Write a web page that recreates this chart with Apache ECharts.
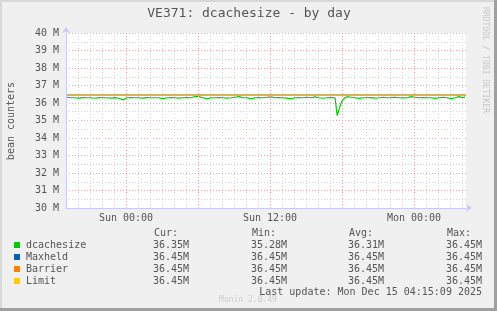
<!DOCTYPE html>
<html>
<head>
<meta charset="utf-8">
<script src="https://cdn.jsdelivr.net/npm/echarts@6/dist/echarts.min.js"></script>
<style>
html,body{margin:0;padding:0;background:#f0f0f0;}
#c{width:497px;height:311px;}
</style>
</head>
<body>
<div id="c"></div>
<script>
// ---- data (hours relative to Sun 00:00, values in millions) ----
const titleText = 'VE371: dcachesize - by day';
const yTitle = 'bean counters';
const xTickLabels = { 0: 'Sun 00:00', 12: 'Sun 12:00', 24: 'Mon 00:00' };
const majorHours = [0, 6, 12, 18, 24];
const dcachesize = [
  [-4.92,36.33],[-4.58,36.30],[-4.25,36.30],[-3.92,36.28],[-3.58,36.31],[-3.25,36.30],
  [-2.92,36.30],[-2.58,36.27],[-2.25,36.31],[-1.92,36.30],[-1.58,36.30],[-1.25,36.28],
  [-0.92,36.31],[-0.58,36.27],[-0.25,36.18],[0.08,36.30],[0.42,36.31],[0.75,36.30],
  [1.08,36.30],[1.42,36.28],[1.75,36.31],[2.08,36.30],[2.42,36.30],[2.75,36.30],
  [3.08,36.25],[3.42,36.30],[3.75,36.31],[4.08,36.30],[4.42,36.28],[4.75,36.30],
  [5.08,36.31],[5.42,36.30],[5.75,36.37],[6.08,36.36],[6.42,36.30],[6.75,36.24],
  [7.08,36.30],[7.42,36.30],[7.75,36.31],[8.08,36.30],[8.42,36.28],[8.75,36.30],
  [9.08,36.33],[9.42,36.36],[9.75,36.30],[10.08,36.30],[10.42,36.24],[10.75,36.30],
  [11.08,36.31],[11.42,36.30],[11.75,36.33],[12.08,36.35],[12.42,36.30],[12.75,36.31],
  [13.08,36.30],[13.42,36.28],[13.75,36.24],[14.08,36.30],[14.42,36.31],[14.75,36.30],
  [15.08,36.33],[15.42,36.30],[15.75,36.35],[16.08,36.30],[16.42,36.27],[16.75,36.30],
  [17.08,36.31],[17.42,36.30],[17.50,36.28],[17.60,35.28],[17.75,35.62],[17.92,35.98],
  [18.08,36.20],[18.25,36.30],[18.42,36.36],[18.75,36.33],[19.08,36.30],[19.42,36.26],
  [19.75,36.30],[20.08,36.30],[20.42,36.31],[20.75,36.28],[21.08,36.30],[21.42,36.33],
  [21.75,36.30],[22.08,36.31],[22.42,36.33],[22.75,36.30],[23.08,36.29],[23.42,36.30],
  [23.75,36.36],[24.08,36.33],[24.42,36.30],[24.75,36.31],[25.08,36.30],[25.42,36.30],
  [25.75,36.26],[26.08,36.30],[26.42,36.33],[26.75,36.30],[27.08,36.25],[27.42,36.30],
  [27.75,36.36],[28.08,36.30],[28.25,36.35]
];
const levelTimes = [-4.92, 28.33];
const maxheld = [36.45, 36.45];
const barrier = [36.45, 36.45];
const limit = [36.45, 36.45];

const legendNames = ['dcachesize', 'Maxheld', 'Barrier', 'Limit'];
const legendColors = ['#00cc00', '#0066b3', '#ff8000', '#ffcc00'];
const statHeaders = ['Cur:', 'Min:', 'Avg:', 'Max:'];
const statCur = ['36.35M', '36.45M', '36.45M', '36.45M'];
const statMin = ['35.28M', '36.45M', '36.45M', '36.45M'];
const statAvg = ['36.31M', '36.45M', '36.45M', '36.45M'];
const statMax = ['36.45M', '36.45M', '36.45M', '36.45M'];
const lastUpdate = 'Last update: Mon Dec 15 04:15:09 2025';
const versionText = 'Munin 2.0.49';
const watermark = 'RRDTOOL / TOBI OETIKER';

// ---- chart ----
const MONO = '"DejaVu Sans Mono", "Liberation Mono", monospace';
const chart = echarts.init(document.getElementById('c'), null, { renderer: 'canvas' });

const pair = (vals) => levelTimes.map((t, i) => [t, vals[i]]);
const gray = '#d4d4d4', red = '#f2a0a0', axisBlue = '#c8c8ff';

const graphic = [];
// frame
graphic.push({ type: 'rect', shape: { x: 0, y: 0, width: 497, height: 2 }, style: { fill: '#d8d8d8' }, silent: true });
graphic.push({ type: 'rect', shape: { x: 0, y: 0, width: 2, height: 311 }, style: { fill: '#d8d8d8' }, silent: true });
graphic.push({ type: 'rect', shape: { x: 494, y: 0, width: 3, height: 311 }, style: { fill: '#a0a0a0' }, silent: true });
graphic.push({ type: 'rect', shape: { x: 0, y: 308, width: 497, height: 3 }, style: { fill: '#a0a0a0' }, silent: true });
// title
graphic.push({ type: 'text', x: 249, y: 14, style: { text: titleText, font: '13px ' + MONO, fill: '#555', align: 'center', verticalAlign: 'middle' } });
// y title
graphic.push({ type: 'text', x: 11, y: 121, rotation: Math.PI / 2, style: { text: yTitle, font: '10px ' + MONO, fill: '#555', align: 'center', verticalAlign: 'middle' } });
// watermark
graphic.push({ type: 'text', x: 485, y: 60, rotation: -Math.PI / 2, style: { text: watermark, font: '8px ' + MONO, fill: '#c8c8c8', align: 'center', verticalAlign: 'middle' } });
// legend + stats
const rowY = [245, 257, 269, 281];
const colHeadX = [154, 252, 349, 447];
const colValX = [189, 287, 384, 482];
const cols = [statCur, statMin, statAvg, statMax];
statHeaders.forEach((h, j) => {
  graphic.push({ type: 'text', x: colHeadX[j], y: 233, style: { text: h, font: '10px ' + MONO, fill: '#555', align: 'left', verticalAlign: 'middle' } });
});
legendNames.forEach((n, i) => {
  graphic.push({ type: 'rect', shape: { x: 14, y: rowY[i] - 3, width: 6, height: 6 }, style: { fill: legendColors[i] } });
  graphic.push({ type: 'text', x: 26, y: rowY[i], style: { text: n, font: '10px ' + MONO, fill: '#555', align: 'left', verticalAlign: 'middle' } });
  cols.forEach((c, j) => {
    graphic.push({ type: 'text', x: colValX[j], y: rowY[i], style: { text: c[i], font: '10px ' + MONO, fill: '#555', align: 'right', verticalAlign: 'middle' } });
  });
});
graphic.push({ type: 'text', x: 482, y: 292, style: { text: lastUpdate, font: '10px ' + MONO, fill: '#555', align: 'right', verticalAlign: 'middle' } });
graphic.push({ type: 'text', x: 248, y: 300, style: { text: versionText, font: '8px ' + MONO, fill: '#cccccc', align: 'center', verticalAlign: 'middle' } });

const option = {
  animation: false,
  backgroundColor: '#f0f0f0',
  grid: { left: 66, top: 33, width: 400, height: 175, backgroundColor: '#ffffff', show: true, borderWidth: 0 },
  xAxis: {
    type: 'value', min: -5, max: 28.3333, interval: 1,
    axisLine: { show: true, onZero: false, lineStyle: { color: axisBlue, width: 1 }, symbol: ['none', 'arrow'], symbolSize: [6, 6], symbolOffset: [0, 6] },
    axisTick: { show: false },
    axisLabel: { margin: 5, color: '#555', fontFamily: MONO, fontSize: 10, formatter: (v) => xTickLabels[Math.round(v)] !== undefined && Math.abs(v - Math.round(v)) < 1e-6 ? xTickLabels[Math.round(v)] : '', showMinLabel: true, showMaxLabel: false },
    splitLine: { show: true, showMinLine: false, showMaxLine: false, lineStyle: { color: gray, type: [1, 2], width: 1 } }
  },
  yAxis: {
    type: 'value', min: 30, max: 40, interval: 1,
    axisLine: { show: true, onZero: false, lineStyle: { color: axisBlue, width: 1 }, symbol: ['none', 'arrow'], symbolSize: [6, 6], symbolOffset: [0, 6] },
    axisTick: { show: false },
    minorTick: { show: false, splitNumber: 2 },
    minorSplitLine: { show: true, lineStyle: { color: gray, type: [1, 2], width: 1 } },
    axisLabel: { margin: 7, color: '#555', fontFamily: MONO, fontSize: 10, formatter: (v) => Math.round(v) + ' M' },
    splitLine: { show: true, showMinLine: false, lineStyle: { color: red, type: [1, 2], width: 1 } }
  },
  series: [
    { name: legendNames[0], type: 'line', data: dcachesize, showSymbol: false, lineStyle: { color: legendColors[0], width: 1.2 }, itemStyle: { color: legendColors[0] },
      markLine: { silent: true, symbol: 'none', label: { show: false }, animation: false,
        lineStyle: { color: red, type: [1, 2], width: 1 }, emphasis: { disabled: true },
        data: majorHours.map((h) => ({ xAxis: h })) }, z: 3 },
    { name: legendNames[1], type: 'line', data: pair(maxheld), showSymbol: false, lineStyle: { color: legendColors[1], width: 1 }, z: 6 },
    { name: legendNames[2], type: 'line', data: pair(barrier), showSymbol: false, lineStyle: { color: legendColors[2], width: 1 }, z: 7 },
    { name: legendNames[3], type: 'line', data: pair(limit), showSymbol: false, lineStyle: { color: legendColors[3], width: 1 }, z: 8 }
  ],
  graphic: graphic
};
chart.setOption(option);
</script>
</body>
</html>
